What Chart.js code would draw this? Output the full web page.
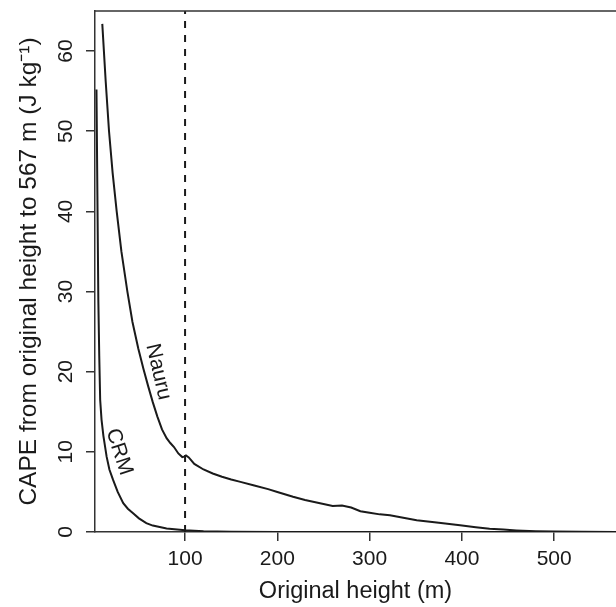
<!DOCTYPE html>
<html>
<head>
<meta charset="utf-8">
<script src="https://cdn.jsdelivr.net/npm/chart.js@4.4.1/dist/chart.umd.min.js"></script>
<style>
  html, body { margin: 0; padding: 0; background: #fff; }
  #chart { display: block; }
</style>
</head>
<body>
<canvas id="chart" width="616" height="607"></canvas>
<script>
// values
const nauruHeight = [10.3, 14, 17.6, 21.5, 25.9, 31, 37.5, 43, 49.3, 55, 60, 65, 70, 75, 80, 84, 88, 92.7, 97, 99, 101, 104, 110, 120, 130, 140, 150, 160, 175, 190, 200, 217, 230, 240, 250, 260, 270, 280, 290, 300, 311, 322, 335, 351, 375, 398, 415, 430, 445, 459, 480, 500, 530, 567];
const nauruCape = [63.4, 56.2, 50, 44.8, 40, 35, 30, 26.2, 22.9, 20.3, 18.2, 16.2, 14.4, 12.8, 11.7, 11.1, 10.6, 9.8, 9.35, 9.4, 9.55, 9.3, 8.5, 7.8, 7.3, 6.9, 6.55, 6.25, 5.8, 5.35, 5.0, 4.4, 4.0, 3.75, 3.5, 3.25, 3.3, 3.05, 2.6, 2.4, 2.2, 2.1, 1.8, 1.46, 1.15, 0.84, 0.6, 0.42, 0.3, 0.2, 0.1, 0.05, 0.02, 0];

const crmHeight = [4, 5, 6, 7, 8, 9.5, 11.5, 15, 18, 22, 27, 33, 38, 44, 50, 58, 65, 80, 100, 120, 150, 200, 300, 567];
const crmCape = [55.2, 42, 29, 22, 16.5, 14, 12, 9.4, 7.8, 6.5, 5, 3.6, 2.9, 2.3, 1.7, 1.1, 0.8, 0.45, 0.22, 0.1, 0.04, 0.01, 0, 0];

const markerHeight = 100;
const xTicks = [100, 200, 300, 400, 500];
const yTicks = [0, 10, 20, 30, 40, 50, 60];

const curveLabels = [
  {text: 'Nauru', x: 71, y: 20, angle: 77},
  {text: 'CRM', x: 28.5, y: 10, angle: 72}
];

const FONT = '"Liberation Sans", Arial, Helvetica, sans-serif';
const INK = '#1a1a1a';

function toPoints(xs, ys) {
  return xs.map((x, i) => ({x: x, y: ys[i]}));
}

const boxAndLabels = {
  id: 'boxAndLabels',
  afterDatasetsDraw(chart) {
    const {ctx, chartArea, scales} = chart;
    ctx.save();
    ctx.strokeStyle = '#333';
    ctx.lineWidth = 1.5;
    ctx.beginPath();
    ctx.moveTo(chartArea.left, chartArea.top);
    ctx.lineTo(chartArea.right, chartArea.top);
    ctx.stroke();

    ctx.font = '21px ' + FONT;
    ctx.fillStyle = INK;
    ctx.textAlign = 'center';
    ctx.textBaseline = 'middle';
    for (const l of curveLabels) {
      ctx.save();
      ctx.translate(scales.x.getPixelForValue(l.x), scales.y.getPixelForValue(l.y));
      ctx.rotate(l.angle * Math.PI / 180);
      ctx.fillText(l.text, 0, 0);
      ctx.restore();
    }
    ctx.restore();
  }
};

const line = {
  pointRadius: 0,
  borderColor: INK,
  borderWidth: 2,
  showLine: true,
  fill: false,
  tension: 0
};

new Chart(document.getElementById('chart').getContext('2d'), {
  type: 'scatter',
  data: {
    datasets: [
      Object.assign({label: 'Nauru', data: toPoints(nauruHeight, nauruCape)}, line),
      Object.assign({label: 'CRM', data: toPoints(crmHeight, crmCape)}, line),
      Object.assign({label: 'marker', data: [{x: markerHeight, y: 0}, {x: markerHeight, y: 65}], borderDash: [7, 7]}, line)
    ]
  },
  options: {
    responsive: false,
    animation: false,
    devicePixelRatio: 1,
    layout: {padding: {top: 11, right: 0, left: 0, bottom: 0}},
    plugins: {
      legend: {display: false},
      tooltip: {enabled: false}
    },
    scales: {
      x: {
        type: 'linear',
        min: 2.4,
        max: 567,
        afterBuildTicks: s => { s.ticks = xTicks.map(v => ({value: v})); },
        afterFit: s => { s.height = 75; s.paddingLeft = 0; s.paddingRight = 0; },
        grid: {drawOnChartArea: false, drawTicks: true, tickLength: 9, color: '#333', lineWidth: 1.5},
        border: {display: true, color: '#333', width: 1.5},
        ticks: {color: INK, font: {family: FONT, size: 21}, padding: 6, maxRotation: 0, autoSkip: false},
        title: {display: true, text: 'Original height (m)', color: INK, font: {family: FONT, size: 23.5}, padding: {top: 0, bottom: 1}}
      },
      y: {
        type: 'linear',
        min: 0,
        max: 65,
        afterBuildTicks: s => { s.ticks = yTicks.map(v => ({value: v})); },
        afterFit: s => { s.width = 95; s.paddingTop = 0; s.paddingBottom = 0; },
        grid: {drawOnChartArea: false, drawTicks: true, tickLength: 9, color: '#333', lineWidth: 1.5},
        border: {display: true, color: '#333', width: 1.5},
        ticks: {color: INK, font: {family: FONT, size: 21}, padding: 8, minRotation: 90, maxRotation: 90, crossAlign: 'center', autoSkip: false},
        title: {display: true, text: 'CAPE from original height to 567 m (J kg⁻¹)', color: INK, font: {family: FONT, size: 24.5}, padding: {top: 15, bottom: 0}}
      }
    }
  },
  plugins: [boxAndLabels]
});
</script>
</body>
</html>
